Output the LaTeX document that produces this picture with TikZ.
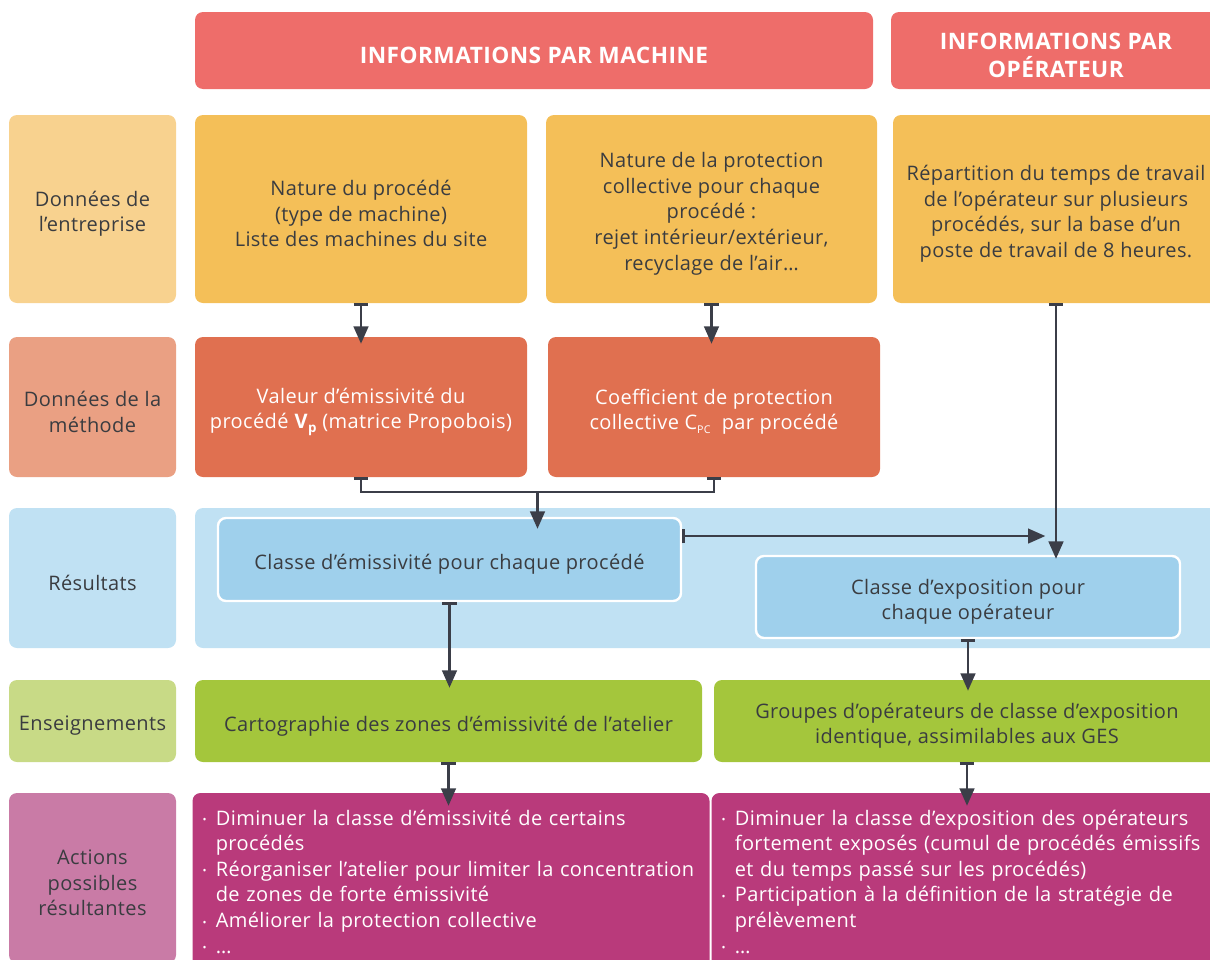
\documentclass[tikz,border=0pt]{standalone}
\usepackage{fontspec}
\setmainfont{Open Sans}[LetterSpace=2]
\usetikzlibrary{arrows.meta,calc}
\definecolor{hdr}{HTML}{EE6D6A}
\definecolor{lone}{HTML}{F8D28F}
\definecolor{rone}{HTML}{F4BF58}
\definecolor{ltwo}{HTML}{EAA083}
\definecolor{rtwo}{HTML}{E07050}
\definecolor{bandc}{HTML}{C0E1F3}
\definecolor{innc}{HTML}{9FD0EC}
\definecolor{lfour}{HTML}{C8DA86}
\definecolor{rfour}{HTML}{A4C63C}
\definecolor{lfive}{HTML}{C97BA6}
\definecolor{rfive}{HTML}{B93A7B}
\definecolor{arrc}{HTML}{3B3E48}
\definecolor{txt}{HTML}{3A3C40}
\newcommand\bbox[7]{%
  \node[#6, minimum width={(#4-#2)*0.75pt}, minimum height={(#5-#3)*0.75pt}] (#1) at ({(#2+#4)/2},{(#3+#5)/2}) {};
  \node[#6, fill=none, draw=none, yshift=-3.6pt] (#1-t) at (#1.center) {#7};}
\newcommand\bul{{\fontsize{8}{8}\selectfont\raisebox{1pt}{•}}}
\begin{document}
\begin{tikzpicture}[x=0.75pt,y=-0.75pt,
  base/.style={rounded corners=6pt, inner sep=0pt, align=center, text=txt, font=\fontsize{15}{19.2}\selectfont},
  hd/.style={base, fill=hdr, text=white, font=\bfseries\fontsize{17}{21}\selectfont},
  lbl/.style={base},
  box/.style={base},
  inbox/.style={base, fill=innc, draw=white, line width=1.8pt},
  act/.style={base, fill=rfive, text=white, align=left, inner xsep=7.5pt},
  conn/.style={draw=arrc, line width=1.8pt, arrows={Bar[width=11pt]-Triangle[width=11pt,length=13pt]}},
  connb/.style={draw=arrc, line width=1.8pt, arrows={Bar[width=11pt]-Bar[width=11pt]}},
  conna/.style={draw=arrc, line width=1.8pt, arrows={-Triangle[width=11pt,length=13pt]}}]
\useasboundingbox (0,0) rectangle (1210,960);
\clip (0,0) rectangle (1210,960);
% headers
\bbox{h1}{195}{12}{873}{89}{hd}{INFORMATIONS PAR MACHINE}
\bbox{h2}{891}{12}{1221}{89}{hd}{INFORMATIONS PAR\\OPÉRATEUR}
% row 1
\bbox{l1}{9}{115}{176}{303}{lbl,fill=lone}{Données de\\l’entreprise}
\bbox{A}{195}{115}{527}{303}{box,fill=rone}{Nature du procédé\\(type de machine)\\Liste des machines du site}
\bbox{B}{546}{115}{877}{303}{box,fill=rone}{Nature de la protection\\collective pour chaque\\procédé :\\rejet intérieur/extérieur,\\recyclage de l’air…}
\bbox{C}{893}{115}{1219}{303}{box,fill=rone}{Répartition du temps de travail\\de l’opérateur sur plusieurs\\procédés, sur la base d’un\\poste de travail de 8 heures.}
% row 2
\bbox{l2}{9}{337}{176}{477}{lbl,fill=ltwo}{Données de la\\méthode}
\bbox{D}{195}{337}{527}{477}{box,fill=rtwo,text=white}{Valeur d’émissivité du\\procédé \textbf{V}\raisebox{-3pt}{\fontsize{10}{10}\selectfont\textbf{p}} (matrice Propobois)}
\bbox{E}{548}{337}{880}{477}{box,fill=rtwo,text=white}{Coefficient de protection\\collective C\raisebox{-3pt}{\fontsize{8}{8}\selectfont PC}\ \ par procédé}
% row 3
\bbox{l3}{9}{508}{176}{648}{lbl,fill=bandc}{Résultats}
\fill[bandc, rounded corners=6pt] (195,508) rectangle (1230,648);
\bbox{F}{218}{518}{681}{601}{inbox}{Classe d’émissivité pour chaque procédé}
\bbox{G}{756}{556}{1180}{638}{inbox}{Classe d’exposition pour\\chaque opérateur}
% row 4
\bbox{l4}{9}{680}{176}{762}{lbl,fill=lfour}{Enseignements}
\bbox{H}{195}{680}{702}{762}{box,fill=rfour}{Cartographie des zones d’émissivité de l’atelier}
\bbox{I}{714}{680}{1220}{762}{box,fill=rfour}{Groupes d’opérateurs de classe d’exposition\\identique, assimilables aux GES}
% row 5
\bbox{l5}{9}{793}{176}{963}{lbl,fill=lfive}{Actions\\possibles\\résultantes}
\node[act, text width={(707-195-15)*0.75pt}, minimum height={(975-793)*0.75pt}] (J) at ({(195+707)/2},{(793+975)/2}) {%
\begin{tabular}{@{}p{10pt}@{}l@{}}
\bul & Diminuer la classe d’émissivité de certains\\
 & procédés\\
\bul & Réorganiser l’atelier pour limiter la concentration\\
 & de zones de forte émissivité\\
\bul & Améliorer la protection collective\\
\bul & …
\end{tabular}};
\node[act, text width={(1220-714-15)*0.75pt}, minimum height={(975-793)*0.75pt}] (K) at ({(714+1220)/2},{(793+975)/2}) {%
\begin{tabular}{@{}p{10pt}@{}l@{}}
\bul & Diminuer la classe d’exposition des opérateurs\\
 & fortement exposés (cumul de procédés émissifs\\
 & et du temps passé sur les procédés)\\
\bul & Participation à la définition de la stratégie de\\
 & prélèvement\\
\bul & …
\end{tabular}};
% connectors
\draw[conn] (A.south) -- ($(A.south |- D.north)+(0,7)$);
\draw[conn] (B.south) -- ($(B.south |- E.north)+(0,7)$);
\coordinate (mj) at ($(D.south)!0.5!(E.south)+(0,15)$);
\draw[connb] (D.south) |- (mj) -| (E.south);
\draw[conna] (mj) -- ($(mj |- F.north)+(0,12)$);
\coordinate (jn) at ([yshift=17.6pt]F.east -| C.south);
\draw[conn] ([yshift=17.6pt]F.east) -- ([xshift=-8pt]jn);
\draw[conn] (C.south) -- ($(C.south |- G.north)+(0,4)$);
\draw[conn] (F.south) -- ($(F.south |- H.north)+(0,8)$);
\draw[conn] (G.south) -- ($(G.south |- I.north)+(0,11)$);
\draw[conn] (H.south) -- ($(H.south |- J.north)+(0,13)$);
\draw[conn] (I.south) -- ($(I.south |- K.north)+(0,13)$);
\end{tikzpicture}
\end{document}
